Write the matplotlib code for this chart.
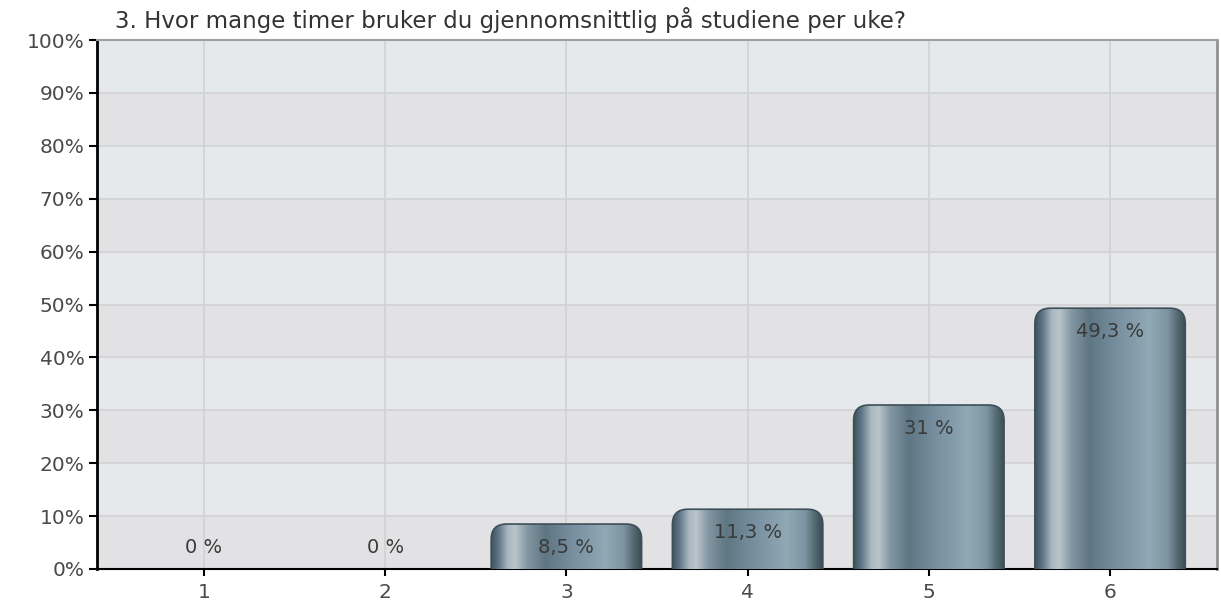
import matplotlib
matplotlib.use('Agg')
import matplotlib.pyplot as plt
import numpy as np
from matplotlib.patches import FancyBboxPatch
from matplotlib.colors import LinearSegmentedColormap

# data
categories = ['1', '2', '3', '4', '5', '6']
values = [0, 0, 8.5, 11.3, 31, 49.3]
value_labels = ['0 %', '0 %', '8,5 %', '11,3 %', '31 %', '49,3 %']
title = '3. Hvor mange timer bruker du gjennomsnittlig på studiene per uke?'

plt.rcParams['font.family'] = ['DejaVu Sans']

fig = plt.figure(figsize=(12.21, 6.05), dpi=100)
ax = fig.add_axes([97 / 1221, 36 / 605, 1120 / 1221, 529 / 605])

x = np.arange(1, len(categories) + 1)
ax.set_xlim(0.41, 6.59)
ax.set_ylim(0, 100)

# alternating background bands
for lo in range(0, 100, 10):
    col = '#e2e2e4' if (lo // 10) % 2 == 0 else '#e6e9ec'
    ax.axhspan(lo, lo + 10, color=col, lw=0, zorder=0)

ax.set_yticks(np.arange(0, 101, 10))
ax.set_yticklabels([f'{v}%' for v in range(0, 101, 10)])
ax.set_xticks(x)
ax.set_xticklabels(categories)
ax.grid(True, color='#d2d2d4', lw=1.2, zorder=1)
ax.set_axisbelow(True)

ax.tick_params(axis='y', length=6, width=1.5, color='black', labelsize=14.5,
               labelcolor='#4a4a4a', pad=3)
ax.tick_params(axis='x', length=5, width=1.5, color='black', labelsize=14.5,
               labelcolor='#4a4a4a', pad=5)

ax.spines['left'].set_linewidth(2)
ax.spines['left'].set_color('black')
ax.spines['bottom'].set_linewidth(1.5)
ax.spines['bottom'].set_color('black')
ax.spines['top'].set_color('#a0a0a0')
ax.spines['top'].set_linewidth(1.5)
ax.spines['right'].set_color('#909090')
ax.spines['right'].set_linewidth(2)

# cylinder shading across the bar width
stops = [(0.00, '#3e535d'), (0.05, '#62788a'), (0.11, '#a9b7be'),
         (0.16, '#b9c5cb'), (0.24, '#8397a2'), (0.36, '#5f7683'),
         (0.55, '#7890a0'), (0.76, '#91a8b5'), (0.88, '#7d95a2'),
         (0.95, '#52676f'), (1.00, '#3a4c55')]
cyl = LinearSegmentedColormap.from_list('cyl', stops)
grad = np.linspace(0, 1, 256)[None, :]

width = 0.83
bars = ax.bar(x, values, width=width, color='none', zorder=2)
for rect, lab, v in zip(bars, value_labels, values):
    x0 = rect.get_x()
    h = rect.get_height()
    if h > 0:
        patch = FancyBboxPatch((x0, -6), width, h + 6,
                               boxstyle='round,pad=0,rounding_size=0.085',
                               mutation_aspect=34, fc='none',
                               ec='#3d4f58', lw=1.2, zorder=4)
        ax.add_patch(patch)
        im = ax.imshow(grad, cmap=cyl, aspect='auto',
                       extent=(x0, x0 + width, 0, h), zorder=3,
                       interpolation='bicubic')
        im.set_clip_path(patch)
    ly = max(v - 4.4, 4.0)
    ax.text(rect.get_x() + width / 2, ly, lab, ha='center', va='center',
            fontsize=14, color='#3a3a3a', zorder=5)

fig.text(115 / 1221, 1 - 20 / 605, title, ha='left', va='center',
         fontsize=16.5, color='#333333')

fig.savefig('out.png', dpi=100, facecolor='white')
